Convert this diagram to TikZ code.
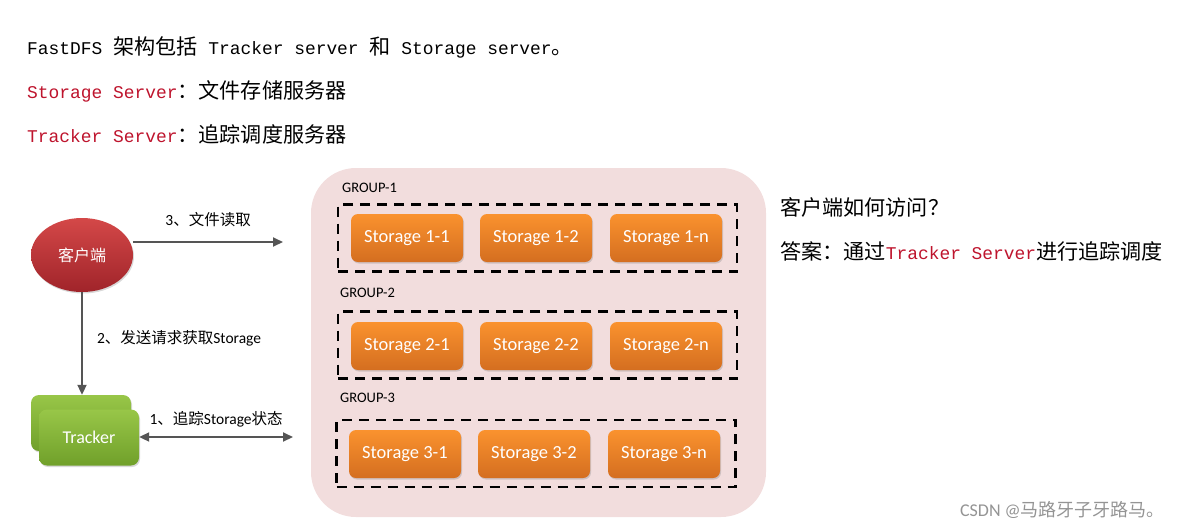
\documentclass[tikz,border=0pt]{standalone}
\usepackage{fontspec}
\setmainfont{Carlito}
\newfontfamily\cjkfont{Noto Sans CJK SC}
\newfontfamily\zhfont[Scale=1.18]{Noto Sans CJK SC}
\newfontfamily\monofont{Liberation Mono}
\usetikzlibrary{arrows.meta,shadows,shapes.geometric}
\definecolor{txtred}{RGB}{190,20,45}
\definecolor{poolpink}{RGB}{242,221,221}
\definecolor{arrgray}{RGB}{85,85,85}
\definecolor{orgtop}{RGB}{250,146,46}
\definecolor{orgbot}{RGB}{212,110,32}
\definecolor{grntop}{RGB}{152,198,72}
\definecolor{grnbot}{RGB}{112,160,42}
\definecolor{redtop}{RGB}{212,72,72}
\definecolor{redbot}{RGB}{160,36,42}
\tikzset{
  txt/.style={anchor=west, inner sep=0pt, font=\monofont\fontsize{17.9}{20}\selectfont},
  lbl/.style={inner sep=0pt, font=\fontsize{15.5}{18}\selectfont},
  grplbl/.style={anchor=west, inner sep=0pt, font=\fontsize{14.5}{16}\selectfont},
  softshadow/.style={drop shadow={opacity=0.3, shadow xshift=1pt, shadow yshift=-1.5pt}},
  store/.style={rounded corners=7pt, minimum width=112pt, minimum height=48pt,
    top color=orgtop, bottom color=orgbot, text=white,
    font=\fontsize{18.5}{20}\selectfont, softshadow},
  grp/.style={draw, line width=2.8pt, dash pattern=on 10pt off 7pt,
    minimum width=399pt, minimum height=67pt},
  trk/.style={rounded corners=8pt, minimum width=100pt, minimum height=56pt,
    top color=grntop, bottom color=grnbot, text=white,
    font=\fontsize{18}{20}\selectfont, softshadow},
  flow/.style={draw=arrgray, line width=2pt}
}

\begin{document}
\begin{tikzpicture}[x=1pt, y=-1pt, >={Triangle[length=10pt,width=9pt]}]
  \useasboundingbox (0,0) rectangle (1178,528);
  % heading lines
  \node[txt] (head) at (27,47) {FastDFS {\zhfont 架构包括} Tracker server {\zhfont 和} Storage server{\zhfont 。}};
  \node[txt] (sdef) at (27,91) {\textcolor{txtred}{Storage Server}{\zhfont ：文件存储服务器}};
  \node[txt] (tdef) at (27,134) {\textcolor{txtred}{Tracker Server}{\zhfont ：追踪调度服务器}};
  \node[txt] (ask) at (780,207) {\zhfont 客户端如何访问？};
  \node[txt] (ans) at (780,251) {{\zhfont 答案：通过}\textcolor{txtred}{Tracker Server}{\zhfont 进行追踪调度}};

  % storage pool
  \node[fill=poolpink, rounded corners=45pt, minimum width=455pt,
    minimum height=349pt] (pool) at (538.5,342.5) {};
  \node[grplbl] (gl1) at (342,188) {GROUP-1};
  \node[grplbl] (gl2) at (340,293) {GROUP-2};
  \node[grplbl] (gl3) at (340,398) {GROUP-3};
  \node[grp] (g1) at (537.5,238) {};
  \node[grp] (g2) at (537.5,345) {};
  \node[grp] (g3) at (536,453.5) {};
  \node[store] (s11) at (407,238) {Storage 1-1};
  \node[store] (s12) at (536,238) {Storage 1-2};
  \node[store] (s1n) at (666,238) {Storage 1-n};
  \node[store] (s21) at (407,346) {Storage 2-1};
  \node[store] (s22) at (536,346) {Storage 2-2};
  \node[store] (s2n) at (666,346) {Storage 2-n};
  \node[store] (s31) at (405,454) {Storage 3-1};
  \node[store] (s32) at (534,454) {Storage 3-2};
  \node[store] (s3n) at (664,454) {Storage 3-n};

  % client and tracker
  \node[ellipse, top color=redtop, bottom color=redbot, text=white,
    minimum width=102pt, minimum height=74pt, softshadow,
    font=\cjkfont\fontsize{16}{18}\selectfont] (client) at (82,255) {客户端};
  \node[trk] (trkback) at (81,423) {};
  \node[trk] (trk) at (89,437.5) {Tracker};

  % connectors
  \coordinate (rd) at (283,242);
  \coordinate (st) at (293,437);
  \draw[flow, ->] (rd -| client.east) -- node[lbl, above=14pt] {3{\cjkfont 、文件读取}} (rd);
  \draw[flow, ->] (client.south) -- node[lbl, right=14pt, pos=0.45] {2{\cjkfont 、发送请求获取}Storage} (client.south |- trkback.north);
  \draw[flow, <->] (trk.east |- st) -- node[lbl, above=9pt] {1{\cjkfont 、追踪}Storage{\cjkfont 状态}} (st);

  % watermark
  \node[anchor=east, inner sep=0pt, text=black!42,
    font=\fontsize{18}{20}\selectfont] (mark) at (1165,510) {CSDN @{\cjkfont 马路牙子牙路马。}};
\end{tikzpicture}
\end{document}
